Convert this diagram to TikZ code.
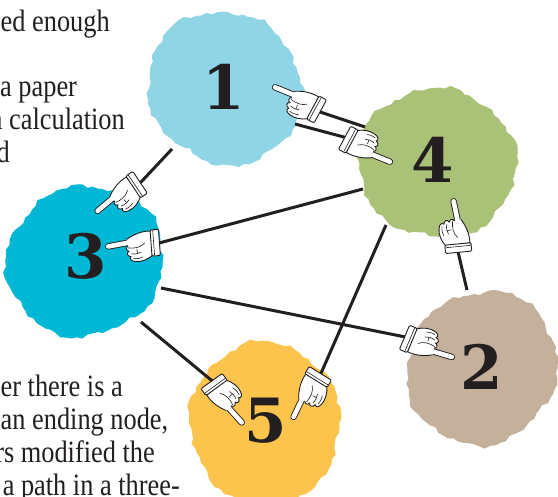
\documentclass[tikz,border=0pt]{standalone}
\usepackage{fontspec}
\setmainfont{Liberation Serif}
\newfontfamily\bodyfont[FakeStretch=0.85]{Liberation Serif}
\newfontfamily\digitfont{DejaVu Serif}

\definecolor{ink}{RGB}{35,31,32}
\definecolor{skyblob}{RGB}{143,213,230}
\definecolor{cyanblob}{RGB}{0,184,214}
\definecolor{sageblob}{RGB}{170,193,120}
\definecolor{tanblob}{RGB}{197,176,155}
\definecolor{sunblob}{RGB}{253,196,77}

% torn-paper disc: colour, centre x, centre y, radius, phase
\newcommand{\paperblob}[5]{%
  \fill[#1] plot[domain=0:356, samples=90, variable=\t]
    ({#2+#4*blobr(\t,#5)*cos(\t)}, {#3+#4*blobr(\t,#5)*sin(\t)}) -- cycle;}

\tikzset{
  declare function={blobr(\t,\p)=1+0.035*sin(2*\t+\p)+0.025*sin(5*\t+2*\p)
                     +0.015*sin(11*\t+3*\p)+0.012*sin(23*\t+\p)+0.01*sin(41*\t+2*\p);},
  para/.style={font=\bodyfont\fontsize{31}{33}\selectfont, text=ink, inner sep=0pt},
  digit/.style={font=\digitfont\bfseries\fontsize{61}{61}\selectfont, text=ink,
                inner sep=0pt, anchor=base},
  link/.style={draw=ink, line width=3pt},
  % pointing hand: fingertip at the origin, cuff at (52,0)
  hand/.pic={
    \draw[ink, line width=6.4pt, line cap=round] (3.2,-0.3) -- (28,-3);
    \draw[white, line width=4.6pt, line cap=round] (3.2,-0.3) -- (28,-3);
    \filldraw[fill=white, draw=ink, line width=0.9pt]
      (21,-5.6) .. controls (28,-10) and (36,-12.5) .. (44,-12)
      -- (45,11)
      .. controls (40,15) and (33,17) .. (28,16)
      .. controls (24,15.5) and (22,13) .. (24,11)
      .. controls (20.5,10.5) and (19.5,7) .. (22.5,5.8)
      .. controls (19.5,5) and (19.5,1.5) .. (22,0.9);
    \draw[ink, line width=0.6pt] (22,2.6) .. controls (28,3.6) and (34,3) .. (38,-1);
    \draw[ink, line width=0.6pt] (24.5,8.3) .. controls (28,9.2) and (31,9) .. (34,7.5);
    \draw[ink, line width=0.6pt] (26,13) .. controls (29,13.8) and (33,13.2) .. (35,12);
    \draw[ink, line width=0.6pt] (30,4.5) .. controls (31,6) .. (30.5,8.5);
    \filldraw[fill=white, draw=ink, line width=0.9pt, rounded corners=1.2pt]
      (44,-13) rectangle (52,12);
    \draw[ink, line width=0.6pt] (46.5,-12.5) -- (46.5,11.5);
    \coordinate (-cuff) at (52,0);
  },
  handpic/.style={scale=1.05}
}

\begin{document}
\begin{tikzpicture}[x=1pt, y=-1pt]
\useasboundingbox (0,0) rectangle (558,497);
\clip (0,0) rectangle (558,497);
\fill[white] (0,0) rectangle (558,497);

% running text at the margins
\node[para, anchor=base west] (ta) at (0.5,32) {ed enough};
\node[para, anchor=base west] (tb) at (0,97) {a paper};
\node[para, anchor=base east] (tc) at (125,130) {a calculation};
\node[para, anchor=base east] (td) at (10,163) {d};
\node[para, anchor=base west] (te) at (0.5,397) {er there is a};
\node[para, anchor=base west] (tf) at (0.5,430) {an ending node,};
\node[para, anchor=base east] (tg) at (155,463) {rs modified the};
\node[para, anchor=base east] (th) at (180,496) {a path in a three-};

% the five paper discs
\paperblob{skyblob}{225}{88}{77}{10}
\paperblob{sageblob}{437}{163}{77}{70}
\paperblob{cyanblob}{85}{261}{77}{140}
\paperblob{tanblob}{482}{368}{76}{200}
\paperblob{sunblob}{265}{423}{78}{280}

% free ends of the links at the disc rims
\coordinate (e14a) at (365,127);
\coordinate (e14b) at (295,124);
\coordinate (e13) at (172,149);
\coordinate (e34) at (363,189);
\coordinate (e32) at (161,288);
\coordinate (e42) at (467,290);
\coordinate (e35) at (141,322);
\coordinate (e45) at (386,225);

% node labels
\node[digit] (n1) at (224,110) {1};
\node[digit] (n4) at (433,183) {4};
\node[digit] (n3) at (86,279) {3};
\node[digit] (n2) at (482,390) {2};
\node[digit] (n5) at (266,443) {5};

% pointing hands
\pic[handpic, rotate=-28.4] (hA) at (272,86) {hand};
\pic[handpic, rotate=151.9] (hB) at (393,163) {hand};
\pic[handpic, rotate=33.7] (hC) at (95,213) {hand};
\pic[handpic, rotate=4.3] (hD) at (105,247) {hand};
\pic[handpic, rotate=157.2] (hE) at (455,358) {hand};
\pic[handpic, rotate=-84.6] (hF) at (453,198) {hand};
\pic[handpic, rotate=125.9] (hG) at (244,425) {hand};
\pic[handpic, rotate=58.1] (hH) at (292,420) {hand};

% links
\draw[link] (hA-cuff) -- (e14a);
\draw[link] (hB-cuff) -- (e14b);
\draw[link] (hC-cuff) -- (e13);
\draw[link] (hD-cuff) -- (e34);
\draw[link] (hE-cuff) -- (e32);
\draw[link] (hF-cuff) -- (e42);
\draw[link] (hG-cuff) -- (e35);
\draw[link] (hH-cuff) -- (e45);
\end{tikzpicture}
\end{document}
